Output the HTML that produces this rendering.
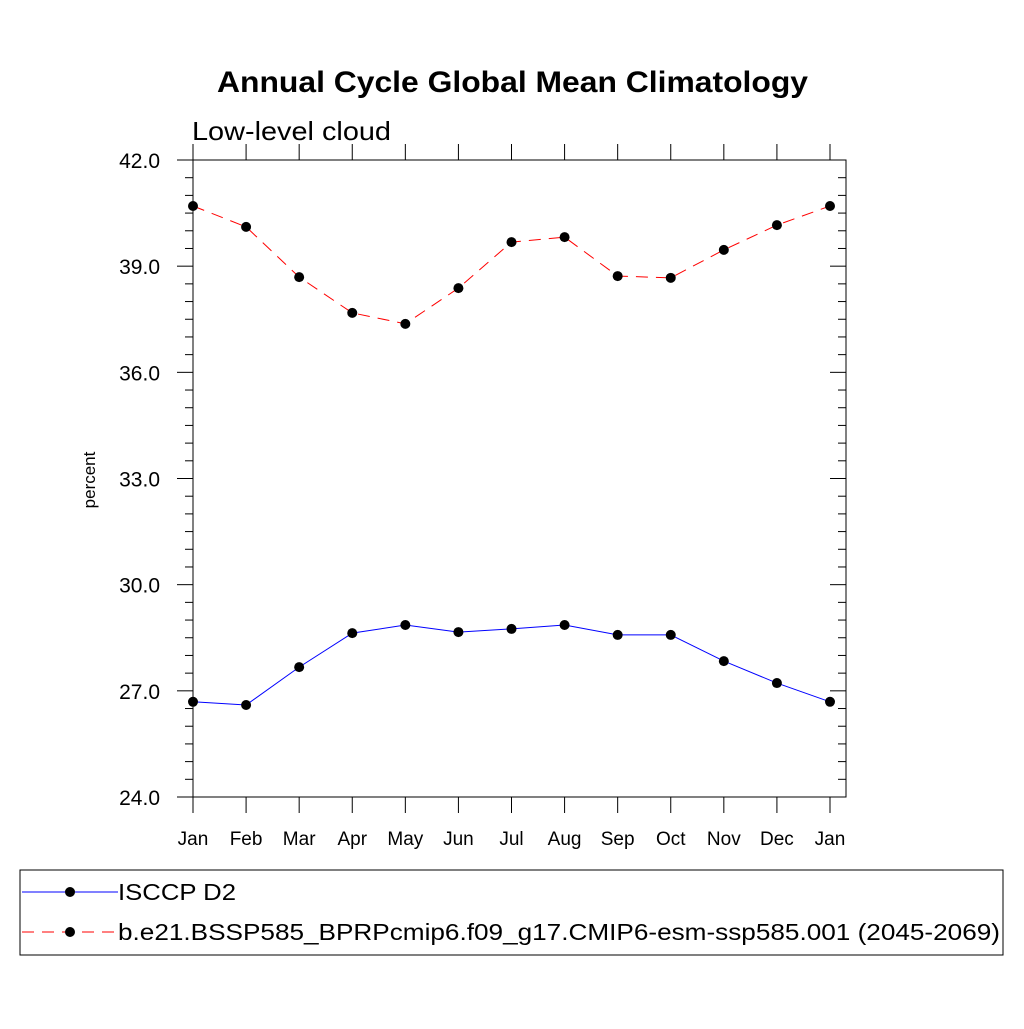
<!DOCTYPE html>
<html><head><meta charset="utf-8"><style>body{margin:0;background:#fff}svg{font-family:"Liberation Sans",sans-serif}</style></head>
<body>
<svg id="c" width="1024" height="1024" xmlns="http://www.w3.org/2000/svg">
<rect width="1024" height="1024" fill="#fff"/>
<text x="217" y="92" font-size="30" font-weight="bold" textLength="591" lengthAdjust="spacingAndGlyphs">Annual Cycle Global Mean Climatology</text>
<text x="192" y="140" font-size="26" textLength="199" lengthAdjust="spacingAndGlyphs">Low-level cloud</text>
<text transform="translate(95,480) rotate(-90)" text-anchor="middle" font-size="17">percent</text>
<g id="axes"></g>
<g id="series"></g>
<rect x="20" y="870" width="983" height="85" fill="none" stroke="#000" stroke-width="1"/>
<g>
<line x1="22" y1="892" x2="118" y2="892" stroke="#00f" stroke-width="1"/><circle cx="70" cy="892" r="5" fill="#000"/>
<text x="118" y="900" font-size="23" textLength="118" lengthAdjust="spacingAndGlyphs">ISCCP D2</text></g>
<g>
<line x1="22" y1="932" x2="118" y2="932" stroke="#f00" stroke-width="1" stroke-dasharray="12,8"/><circle cx="70" cy="932" r="5" fill="#000"/>
<text x="118" y="940" font-size="23" textLength="882" lengthAdjust="spacingAndGlyphs">b.e21.BSSP585_BPRPcmip6.f09_g17.CMIP6-esm-ssp585.001 (2045-2069)</text></g>
</svg>
<script>
const months=["Jan","Feb","Mar","Apr","May","Jun","Jul","Aug","Sep","Oct","Nov","Dec","Jan"];
const isccp=[26.69,26.60,27.67,28.63,28.86,28.66,28.75,28.86,28.58,28.58,27.84,27.22,26.69];
const model=[40.70,40.11,38.69,37.68,37.37,38.38,39.68,39.82,38.72,38.67,39.46,40.16,40.70];
const yTicks=["24.0","27.0","30.0","33.0","36.0","39.0","42.0"];
const NS="http://www.w3.org/2000/svg";
const L=193,R=846,T=160,B=797,X0=193,X1=830;
const x=i=>X0+(X1-X0)*i/(months.length-1);
const y=v=>B-(v-24)/18*(B-T);
function mk(t,a,p){const e=document.createElementNS(NS,t);for(const k in a)e.setAttribute(k,a[k]);p.appendChild(e);return e;}
const ax=document.getElementById('axes');
const fr=mk('rect',{x:L,y:T,width:R-L,height:B-T,fill:'none',stroke:'#000','stroke-width':1},ax);


for(let v=24;v<=42.001;v+=0.5){const yy=y(v);const maj=Math.abs(v%3)<1e-6;const len=maj?16:8;
mk('line',{x1:L-len,y1:yy,x2:L,y2:yy,stroke:'#000'},ax);mk('line',{x1:R-len,y1:yy,x2:R,y2:yy,stroke:'#000'},ax);}
yTicks.forEach(t=>{const e=mk('text',{x:L-33,y:y(parseFloat(t))+8,'text-anchor':'end','font-size':21},ax);e.textContent=t;

});
months.forEach((m,i)=>{const xx=x(i);mk('line',{x1:xx,y1:B,x2:xx,y2:B+16,stroke:'#000'},ax);mk('line',{x1:xx,y1:T-16,x2:xx,y2:T,stroke:'#000'},ax);
const e=mk('text',{x:xx,y:845,'text-anchor':'middle','font-size':19},ax);e.textContent=m;

});
const sg=document.getElementById('series');
function draw(vals,col,dash,name){const g=mk('g',{},sg);


mk('polyline',{points:vals.map((v,i)=>x(i)+','+y(v)).join(' '),fill:'none',stroke:col,'stroke-width':1,'stroke-dasharray':dash},g);
vals.forEach((v,i)=>{const c=mk('circle',{cx:x(i),cy:y(v),r:5,fill:'#000'},g);

});}
draw(isccp,'#00f','none','isccp-series');
draw(model,'#f00','12,8','model-series');
</script>
</body></html>
